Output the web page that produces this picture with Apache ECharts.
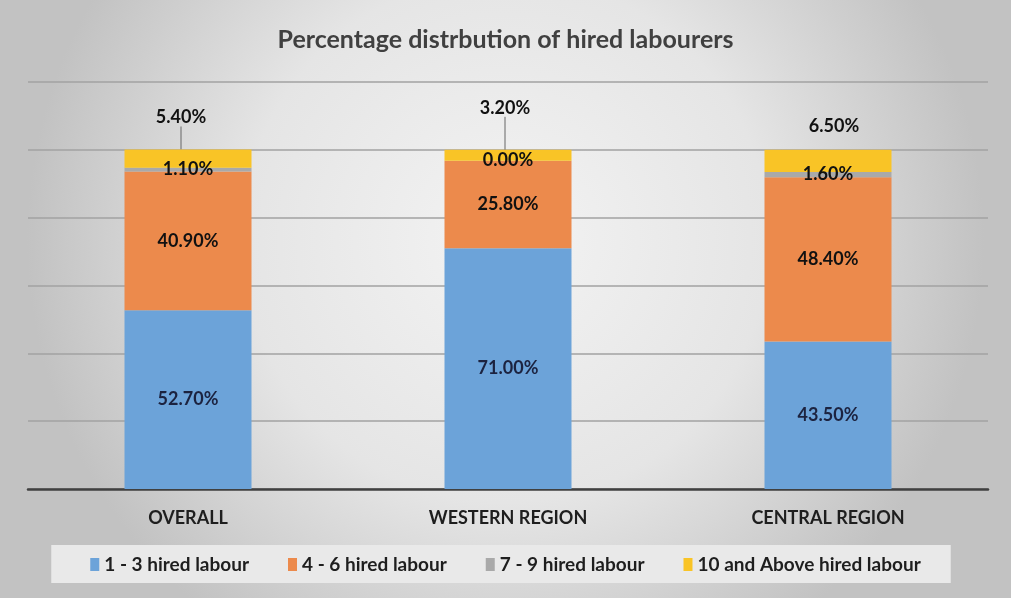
<!DOCTYPE html>
<html>
<head>
<meta charset="utf-8">
<script src="https://cdn.jsdelivr.net/npm/echarts@6/dist/echarts.min.js"></script>
<style>
  html, body { margin: 0; padding: 0; }
  #chart { width: 1011px; height: 598px; }
</style>
</head>
<body>
<div id="chart"></div>
<script>
// Regions and hired-labour share per group (percent)
const categories = ['OVERALL', 'WESTERN REGION', 'CENTRAL REGION'];
const seriesNames = ['1 - 3 hired labour', '4 - 6 hired labour', '7 - 9 hired labour', '10 and Above hired labour'];
const labour1to3 = [52.7, 71.0, 43.5];
const labour4to6 = [40.9, 25.8, 48.4];
const labour7to9 = [1.1, 0.0, 1.6];
const labour10plus = [5.4, 3.2, 6.5];

const FONT = 'Lato, "Open Sans", sans-serif';
const colors = ['#6ca3d9', '#ec8a4c', '#a9a9a9', '#f9c426'];

// Callout placement for the top segment labels (dx, dy in px)
const calloutShift = [[-7, -18], [-3, -28], [6, -10]];
const calloutLine = [true, true, false];

const fmt = p => p.value.toFixed(2) + '%';

function seg(name, values, color, labelOpt, extra) {
  return Object.assign({
    name: name,
    type: 'bar',
    stack: 'total',
    barWidth: 127,
    data: values,
    itemStyle: { color: color },
    label: Object.assign({
      show: true,
      position: 'inside',
      formatter: fmt,
      fontFamily: FONT,
      fontSize: 18,
      fontWeight: 'bold',
      color: '#111'
    }, labelOpt)
  }, extra || {});
}

const chart = echarts.init(document.getElementById('chart'));
chart.setOption({
  backgroundColor: {
    type: 'radial', x: 0.5, y: 0.4, r: 0.8,
    colorStops: [
      { offset: 0, color: '#f3f3f3' },
      { offset: 0.55, color: '#e5e5e5' },
      { offset: 1, color: '#c2c2c2' }
    ]
  },
  animation: false,
  color: colors,
  title: {
    text: 'Percentage distrbution of hired labourers',
    left: 'center',
    top: 22,
    textStyle: { fontFamily: FONT, fontSize: 25, fontWeight: 'bold', color: '#404040' }
  },
  legend: {
    bottom: 15,
    left: 'center',
    backgroundColor: '#e9e9e9',
    padding: [10, 30, 9, 39],
    itemWidth: 9,
    itemHeight: 13,
    itemGap: 39,
    icon: 'rect',
    textStyle: { fontFamily: FONT, fontSize: 19, fontWeight: 'bold', color: '#1e1e1e' },
    data: seriesNames
  },
  grid: { left: 28, right: 23, top: 82, bottom: 109 },
  xAxis: {
    type: 'category',
    data: categories,
    axisLine: { lineStyle: { color: '#404040', width: 2.5 } },
    axisTick: { show: false },
    axisLabel: { margin: 20, fontFamily: FONT, fontSize: 18, fontWeight: 'bold', color: '#1e1e1e' }
  },
  yAxis: {
    type: 'value',
    min: 0, max: 120, interval: 20,
    axisLabel: { show: false },
    axisLine: { show: false },
    axisTick: { show: false },
    splitLine: { lineStyle: { color: '#a2a2a2', width: 1.5 } }
  },
  series: [
    seg(seriesNames[0], labour1to3, colors[0], { color: '#1c2340' }),
    seg(seriesNames[1], labour4to6, colors[1], {}),
    seg(seriesNames[2], labour7to9, colors[2], {}),
    seg(seriesNames[3], labour10plus.map((v, i) => ({
      value: v,
      labelLine: { show: calloutLine[i] }
    })), colors[3], { position: 'top', distance: 5 }, {
      labelLayout: p => ({ dx: calloutShift[p.dataIndex][0], dy: calloutShift[p.dataIndex][1] }),
      labelLine: { show: true, length2: 0, lineStyle: { color: '#666', width: 1 } }
    })
  ]
});
</script>
</body>
</html>
